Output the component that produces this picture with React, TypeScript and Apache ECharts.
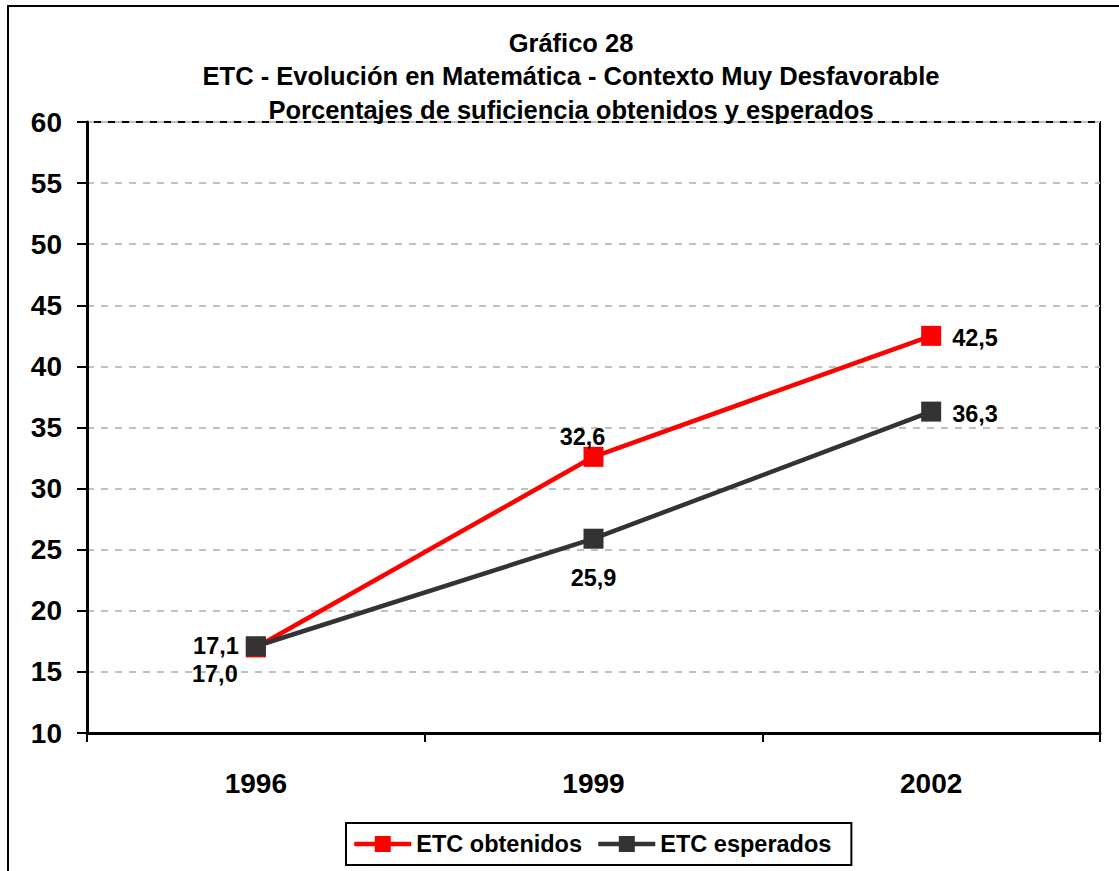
import React, { useEffect, useRef } from "react";
import * as echarts from "echarts";

const categories = ["1996", "1999", "2002"];
const obtenidos = [17.0, 32.6, 42.5];
const esperados = [17.1, 25.9, 36.3];
const seriesNames = ["ETC obtenidos", "ETC esperados"];
const titleLines = [
  "Gráfico 28",
  "ETC - Evolución en Matemática - Contexto Muy Desfavorable",
  "Porcentajes de suficiencia obtenidos y esperados",
];

const FONT = "'Liberation Sans', Arial, sans-serif";

const fmt = (v: number) => v.toFixed(1).replace(".", ",");

const obtLabels = [
  { position: "bottom", offset: [-41, 0] },
  { position: "top", offset: [-11, 7] },
  { position: "right", offset: [6, 2] },
];
const espLabels = [
  { position: "left", offset: [-2, 0] },
  { position: "bottom", offset: [0, 12] },
  { position: "right", offset: [6, 2] },
];

export default function App() {
  const ref = useRef<HTMLDivElement>(null);
  useEffect(() => {
    if (!ref.current) return;
    const chart = echarts.init(ref.current, null, { renderer: "svg" });
    const labelStyle = {
      show: true,
      fontFamily: FONT,
      fontWeight: "bold",
      fontSize: 23.5,
      color: "#000",
      formatter: (p: any) => fmt(p.value),
    };
    chart.setOption({
      animation: false,
      backgroundColor: "#fff",
      title: {
        text: titleLines.join("\n"),
        left: 566,
        textAlign: "center",
        top: 21,
        textStyle: {
          fontFamily: FONT,
          fontWeight: "bold",
          fontSize: 25.5,
          lineHeight: 33.5,
          color: "#000",
        },
      },
      graphic: [
        {
          type: "rect",
          shape: { x: 8, y: 6, width: 1300, height: 1000 },
          style: { fill: "none", stroke: "#000", lineWidth: 2 },
          silent: true,
        },
      ],
      legend: {
        data: seriesNames,
        left: 346,
        top: 823,
        width: 540,
        itemWidth: 57,
        itemHeight: 20,
        itemGap: 14,
        borderColor: "#000",
        borderWidth: 2,
        padding: [9, 20, 9, 6],
        lineStyle: { width: 4.5 },
        textStyle: {
          fontFamily: FONT,
          fontWeight: "bold",
          fontSize: 23.5,
          color: "#000",
        },
      },
      grid: {
        left: 87,
        top: 122,
        width: 1013,
        height: 611,
        show: true,
        borderColor: "#000",
        borderWidth: 2,
        backgroundColor: "transparent",
      },
      xAxis: {
        type: "category",
        data: categories,
        boundaryGap: true,
        axisLine: { lineStyle: { color: "#000", width: 3 } },
        axisTick: {
          show: true,
          alignWithLabel: false,
          inside: false,
          length: 9,
          lineStyle: { color: "#000", width: 2 },
        },
        axisLabel: {
          margin: 36,
          fontFamily: FONT,
          fontWeight: "bold",
          fontSize: 28,
          color: "#000",
        },
      },
      yAxis: {
        type: "value",
        min: 10,
        max: 60,
        interval: 5,
        axisLine: { show: true, lineStyle: { color: "#000", width: 3 } },
        axisTick: {
          show: true,
          length: 10,
          lineStyle: { color: "#000", width: 2 },
        },
        axisLabel: {
          margin: 25,
          fontFamily: FONT,
          fontWeight: "bold",
          fontSize: 28,
          color: "#000",
        },
        splitLine: {
          show: true,
          lineStyle: { color: "#C0C0C0", width: 2, type: [7, 7] },
        },
      },
      series: [
        {
          name: seriesNames[0],
          type: "line",
          data: obtenidos.map((v, i) => ({
            value: v,
            label: { ...obtLabels[i] },
          })),
          symbol: "rect",
          symbolSize: 20,
          itemStyle: { color: "#FF0000" },
          lineStyle: { color: "#FF0000", width: 4.5 },
          label: labelStyle,
          z: 2,
        },
        {
          name: seriesNames[1],
          type: "line",
          data: esperados.map((v, i) => ({
            value: v,
            label: { ...espLabels[i] },
          })),
          symbol: "rect",
          symbolSize: 20,
          itemStyle: { color: "#333333" },
          lineStyle: { color: "#333333", width: 4.5 },
          label: labelStyle,
          z: 3,
        },
      ],
    });
    return () => chart.dispose();
  }, []);
  return (
    <div
      ref={ref}
      style={{ position: "absolute", left: 0, top: 0, width: 1119, height: 871 }}
    />
  );
}
